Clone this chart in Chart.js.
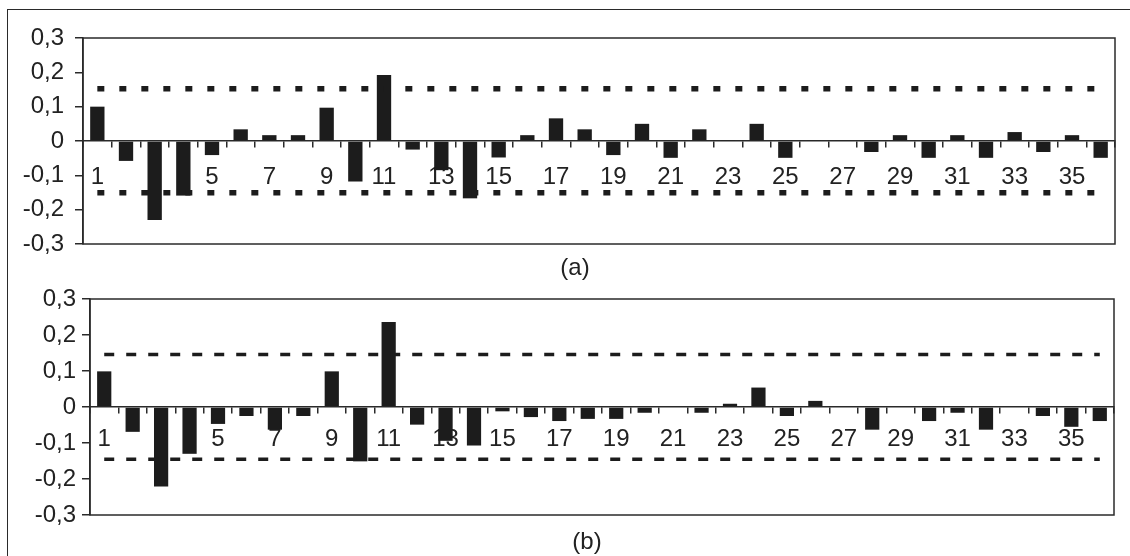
<!DOCTYPE html>
<html>
<head>
<meta charset="utf-8">
<script src="https://cdn.jsdelivr.net/npm/chart.js@4/dist/chart.umd.min.js"></script>
<style>
  html, body { margin: 0; padding: 0; background: #fff; }
  body { width: 1130px; height: 556px; position: relative; overflow: hidden; font-family: "Liberation Sans", Arial, sans-serif; }
  .frame { position: absolute; left: 7px; top: 9px; width: 1200px; height: 600px; border-top: 1.5px solid #2a2a2a; border-left: 1.5px solid #2a2a2a; }
  .wrap { position: absolute; left: 0; width: 1130px; height: 278px; }
  .cap { position: absolute; font-size: 24px; color: #222; transform: translate(-50%, -50%); white-space: nowrap; }
</style>
</head>
<body>
<div class="frame"></div>
<div class="wrap" style="top:0"><canvas id="ca" width="1130" height="278"></canvas></div>
<div class="wrap" style="top:278px"><canvas id="cb" width="1130" height="278"></canvas></div>
<div class="cap" style="left:575px; top:267px">(a)</div>
<div class="cap" style="left:587px; top:541px">(b)</div>
<script>
const categories = ['1','2','3','4','5','6','7','8','9','10','11','12','13','14','15','16','17','18',
  '19','20','21','22','23','24','25','26','27','28','29','30','31','32','33','34','35','36'];

const seriesA = [0.100, -0.058, -0.230, -0.159, -0.041, 0.034, 0.017, 0.017, 0.097, -0.118,
  0.192, -0.025, -0.085, -0.167, -0.048, 0.017, 0.066, 0.034, -0.041, 0.050,
  -0.049, 0.034, 0.002, 0.050, -0.049, 0.002, 0.002, -0.032, 0.017, -0.049,
  0.017, -0.049, 0.026, -0.032, 0.017, -0.049];

const seriesB = [0.099, -0.069, -0.221, -0.130, -0.047, -0.025, -0.063, -0.025, 0.099, -0.151,
  0.236, -0.049, -0.094, -0.107, -0.012, -0.028, -0.039, -0.033, -0.033, -0.016,
  -0.002, -0.016, 0.009, 0.054, -0.025, 0.017, -0.002, -0.063, -0.002, -0.039,
  -0.016, -0.063, -0.002, -0.025, -0.055, -0.039];

const boundA = [0.152, -0.151];
const boundB = [0.146, -0.145];

const yTickValues = [-0.3, -0.2, -0.1, 0, 0.1, 0.2, 0.3];

const FONT = '"Liberation Sans", Arial, sans-serif';
const INK = '#1c1c1c';
const AXIS = '#2a2a2a';

const boxPlugin = {
  id: 'plotBox',
  afterDraw(chart) {
    const a = chart.chartArea, ctx = chart.ctx;
    ctx.save();
    ctx.strokeStyle = AXIS;
    ctx.lineWidth = 1.5;
    ctx.strokeRect(a.left, a.top, a.right - a.left, a.bottom - a.top);
    ctx.restore();
  }
};

function fmt(v) {
  const r = Math.round(v * 10) / 10;
  if (r === 0) return '0';
  return r.toFixed(1).replace('.', ',');
}

function makeChart(id, values, bound, cfg) {
  const upper = categories.map(() => bound[0]);
  const lower = categories.map(() => bound[1]);
  return new Chart(document.getElementById(id), {
    type: 'bar',
    data: {
      labels: categories,
      datasets: [
        { type: 'line', data: upper, borderColor: INK, borderWidth: cfg.dashW, borderDash: cfg.dash,
          pointRadius: 0, fill: false, order: 0, borderCapStyle: 'butt' },
        { type: 'line', data: lower, borderColor: INK, borderWidth: cfg.dashW, borderDash: cfg.dash,
          pointRadius: 0, fill: false, order: 0, borderCapStyle: 'butt' },
        { type: 'bar', data: values, backgroundColor: INK, borderWidth: 0,
          barPercentage: 1.0, categoryPercentage: 0.5, order: 1 }
      ]
    },
    options: {
      responsive: false,
      animation: false,
      events: [],
      layout: { padding: cfg.pad },
      plugins: { legend: { display: false }, tooltip: { enabled: false }, title: { display: false } },
      scales: {
        y: {
          min: -0.3, max: 0.3,
          afterBuildTicks(scale) { scale.ticks = yTickValues.map(v => ({ value: v })); },
          afterFit(scale) { scale.width = cfg.yw; },
          ticks: { callback: v => fmt(v), color: '#222', font: { family: FONT, size: 24 }, padding: cfg.ypad },
          grid: { drawOnChartArea: false, drawTicks: true, tickLength: 8, color: AXIS, lineWidth: 1.5 },
          border: { display: true, color: AXIS, width: 1.5 }
        },
        x: {
          type: 'category',
          position: { y: 0 },
          offset: true,
          ticks: {
            autoSkip: false, maxRotation: 0, minRotation: 0,
            callback: function(val, idx) { return idx % 2 === 0 ? this.getLabelForValue(val) : ''; },
            color: '#222', font: { family: FONT, size: 24 }, padding: cfg.xpad
          },
          grid: { offset: true, drawOnChartArea: false, drawTicks: true, tickLength: 6, color: AXIS, lineWidth: 1.5 },
          border: { display: true, color: AXIS, width: 1.5 }
        }
      }
    },
    plugins: [boxPlugin]
  });
}

makeChart('ca', seriesA, boundA, {
  pad: { left: 0, right: 15, top: 38, bottom: 34 }, yw: 83, xpad: 16, ypad: 11, dash: [7, 15], dashW: 5.5
});
makeChart('cb', seriesB, boundB, {
  pad: { left: 0, right: 16, top: 21, bottom: 41 }, yw: 90, xpad: 12, ypad: 6, dash: [10, 12], dashW: 3.5
});
</script>
</body>
</html>
